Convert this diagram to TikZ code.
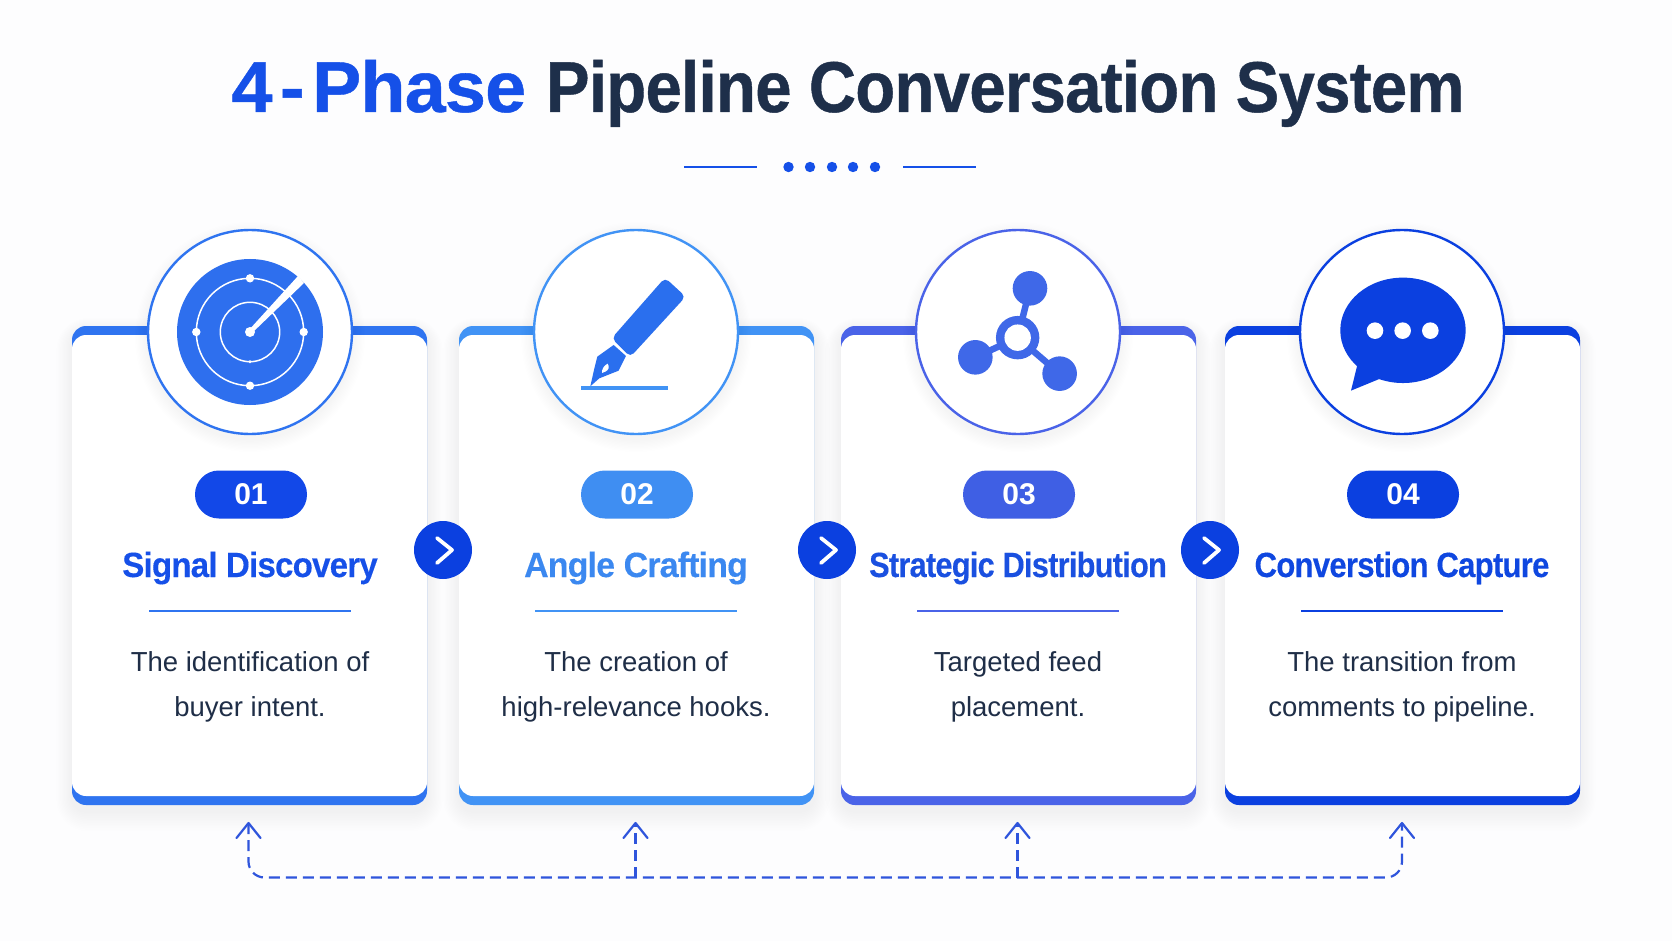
\documentclass[tikz,border=0pt]{standalone}
\usepackage{graphicx}
\usepackage{fontspec}
\setmainfont{Liberation Sans}
\newfontfamily\headfont[LetterSpace=-1.0,FakeStretch=0.947,FakeBold=0.6]{Liberation Sans}
\newfontfamily\cardfont[LetterSpace=-2.5,FakeBold=0.25]{Liberation Sans}
\usetikzlibrary{arrows.meta,calc}
\definecolor{bgc}{HTML}{FDFDFE}
\definecolor{ink}{HTML}{1E2F4A}
\definecolor{bodyc}{HTML}{1F2E47}
\definecolor{brand}{HTML}{1550E8}
\definecolor{shc}{HTML}{2A3F80}
\definecolor{dashc}{HTML}{2F55DC}
\definecolor{c1}{HTML}{2F74F0}
\definecolor{c2}{HTML}{4193F5}
\definecolor{c3}{HTML}{4A63E8}
\definecolor{c4}{HTML}{0B40E0}
\definecolor{p1}{HTML}{1248E8}
\definecolor{p2}{HTML}{3F8EF2}
\definecolor{p3}{HTML}{3F5FE4}
\definecolor{p4}{HTML}{0B40E0}
\definecolor{t1}{HTML}{1650E8}
\definecolor{t2}{HTML}{3B88F0}
\definecolor{t3}{HTML}{1A50E0}
\definecolor{t4}{HTML}{0F47E0}
\definecolor{radarc}{HTML}{2E6FEE}
\definecolor{penc}{HTML}{2A6FEE}
\definecolor{netc}{HTML}{3F68E8}
\tikzset{
  cardback/.style={rounded corners=14pt,minimum width=355pt,minimum height=479pt,inner sep=0pt,outer sep=0pt},
  cardface/.style={fill=white,rounded corners=14pt,minimum width=355pt,minimum height=461pt,inner sep=0pt,outer sep=0pt},
  iconring/.style={circle,fill=white,line width=2.4pt,minimum size=204pt,inner sep=0pt,outer sep=0pt},
  pillbox/.style={rounded corners=23.9pt,minimum width=112pt,minimum height=48pt,inner sep=0pt,text=white,font=\fontsize{30}{30}\selectfont\bfseries},
  cardtitle/.style={anchor=base,inner sep=0pt,font=\cardfont\fontsize{35}{35}\selectfont\bfseries},
  cardbody/.style={anchor=base,inner sep=0pt,text=bodyc,font=\fontsize{27.5}{27.5}\selectfont},
  nextdot/.style={circle,fill=c4,minimum size=58pt,inner sep=0pt,outer sep=0pt},
  chevron/.style={draw=white,line width=3.8pt,line cap=round,line join=round},
  feedback/.style={draw=dashc,line width=2.2pt,dash pattern=on 11pt off 6pt}
}
\begin{document}
\begin{tikzpicture}[x=1pt,y=-1pt]
\useasboundingbox (0,0) rectangle (1672,941);
\fill[bgc] (0,0) rectangle (1672,941);

% title
\node[anchor=base,inner sep=0pt,font=\headfont\fontsize{72}{72}\selectfont\bfseries,text=ink] (title) at (848,112)
  {\textcolor{brand}{\scalebox{1.08}[1]{4\kern7pt-\kern7pt Phase}}\kern20pt\scalebox{.957}[1]{Pipeline Conversation System}};
\draw[brand,line width=2.8pt] (684,167) -- (757,167);
\draw[brand,line width=2.8pt] (903,167) -- (976,167);
\foreach \x in {788.5,810,832,853,875} \fill[brand] (\x,167) circle (5.2pt);

% cards
\foreach \n/\l/\cx/\tt/\sx/\la/\lb in {
  1/72/250/Signal Discovery/.947/The identification of/buyer intent.,
  2/459/636/Angle Crafting/.97/The creation of/high-relevance hooks.,
  3/841/1018/Strategic Distribution/.88/Targeted feed/placement.,
  4/1225/1402/Converstion Capture/.89/The transition from/comments to pipeline.}{
  % soft shadow of the card
  \foreach \i in {1,...,12}
    \fill[shc,opacity=.0035,rounded corners={14+\i*1.5}]
      ({\l-\i*1.3},{326+4-\i*1.0}) rectangle ({\l+355+\i*1.3},{805+6+\i*1.7});
  \node[cardback,fill=c\n] (card\n) at ({\l+177.5},565.5) {};
  \node[cardface] (face\n) at (card\n.center) {};
  % soft shadow of the ring
  \foreach \i in {1,...,10}
    \fill[shc,opacity=.004] (\cx,{332+5}) circle ({102+\i*1.3});
  \node[iconring,draw=c\n] (ring\n) at (\cx,332) {};
  \node[pillbox,fill=p\n] (pill\n) at ({\cx+1},494.5) {0\n};
  \node[cardtitle,text=t\n] (name\n) at (\cx,577) {\scalebox{\sx}[1]{\tt}};
  \coordinate (ruleL\n) at ({\cx-101},611);
  \coordinate (ruleR\n) at ({\cx+101},611);
  \draw[c\n,line width=2pt] (ruleL\n) -- (ruleR\n);
  \node[cardbody] (bodyA\n) at (\cx,671) {\la};
  \node[cardbody] (bodyB\n) at (\cx,716) {\lb};
}

% radar icon
\node[circle,fill=radarc,minimum size=146pt,inner sep=0pt] (radar) at (ring1.center) {};
\draw[white,line width=1.5pt] (radar.center) circle (53.7pt);
\draw[white,line width=1.5pt] (radar.center) circle (29.7pt);
\fill[white] (radar.center) circle (5pt);
\foreach \a in {0,90,180,270} \fill[white] ($(radar.center)+(\a:53.7pt)$) circle (4.2pt);
\fill[white] ($(radar.center)+(0,-29.7pt)$) circle (1.6pt);
\fill[white] ($(radar.center)+(-1.5,-1.5)$) -- (298,276) -- (304,283) -- ($(radar.center)+(1.5,1.5)$) -- cycle;

% pen icon (traced in zoomed units)
\begin{scope}[shift={(460,210)},x=0.3333pt,y=-0.3333pt]
  \fill[penc,rounded corners=5pt] (615,203) -- (677,260) -- (511,441) -- (455,385) -- cycle;
  \fill[penc] (461,405) -- (498,438) -- (476,482) -- (418,505) -- (391,529) -- (402,480) -- (412,440) -- cycle;
  \fill[white] (443,461) .. controls (449,470) and (447,480) .. (436,485) -- (426,489) .. controls (425,478) and (432,466) .. (443,461) -- cycle;
  \fill[c2] (362,529) rectangle (623,541);
\end{scope}

% network icon
\begin{scope}[shift={(840,210)},x=0.3333pt,y=-0.3333pt]
  \draw[netc,line width=6.5pt] (533,383) -- (570,235);
  \draw[netc,line width=6.5pt] (533,383) -- (406,442);
  \draw[netc,line width=6.5pt] (533,383) -- (659,491);
  \fill[netc] (570,235) circle (17.3pt);
  \fill[netc] (406,442) circle (17.3pt);
  \fill[netc] (659,491) circle (17.3pt);
  \fill[netc] (533,383) circle (21.7pt);
  \fill[white] (533,383) circle (13.2pt);
\end{scope}

% chat icon
\begin{scope}[shift={(1220,210)},x=0.3333pt,y=-0.3333pt]
  \fill[c4] (549,361) ellipse (62.7pt and 52.7pt);
  \fill[c4] (412,465) -- (393,542) -- (478,507) -- cycle;
  \foreach \x in {465,548,631} \fill[white] (\x,362) circle (8.3pt);
\end{scope}

% arrows between the cards
\foreach \m/\x in {1/443,2/827,3/1210}{
  \node[nextdot] (next\m) at (\x,550) {};
  \draw[chevron] ($(next\m.center)+(-6,-12)$) -- ($(next\m.center)+(9,0)$) -- ($(next\m.center)+(-6,13)$);
}

% feedback line
\coordinate (f1) at (248.5,823);
\coordinate (f2) at (635.5,823);
\coordinate (f3) at (1017.5,823);
\coordinate (f4) at (1402,823);
\coordinate (b1) at (248.5,877.5);
\coordinate (b2) at (635.5,877.5);
\coordinate (b3) at (1017.5,877.5);
\coordinate (b4) at (1402,877.5);
\draw[feedback,rounded corners=16pt] (f1) -- (b1) -- (b4) -- (f4);
\draw[feedback] (b2) -- (f2);
\draw[feedback] (b3) -- (f3);
\foreach \k in {1,2,3,4}
  \draw[dashc,line width=2.2pt,line cap=round,line join=round] ($(f\k)+(-12,15)$) -- (f\k) -- ($(f\k)+(12,15)$);
\end{tikzpicture}
\end{document}
